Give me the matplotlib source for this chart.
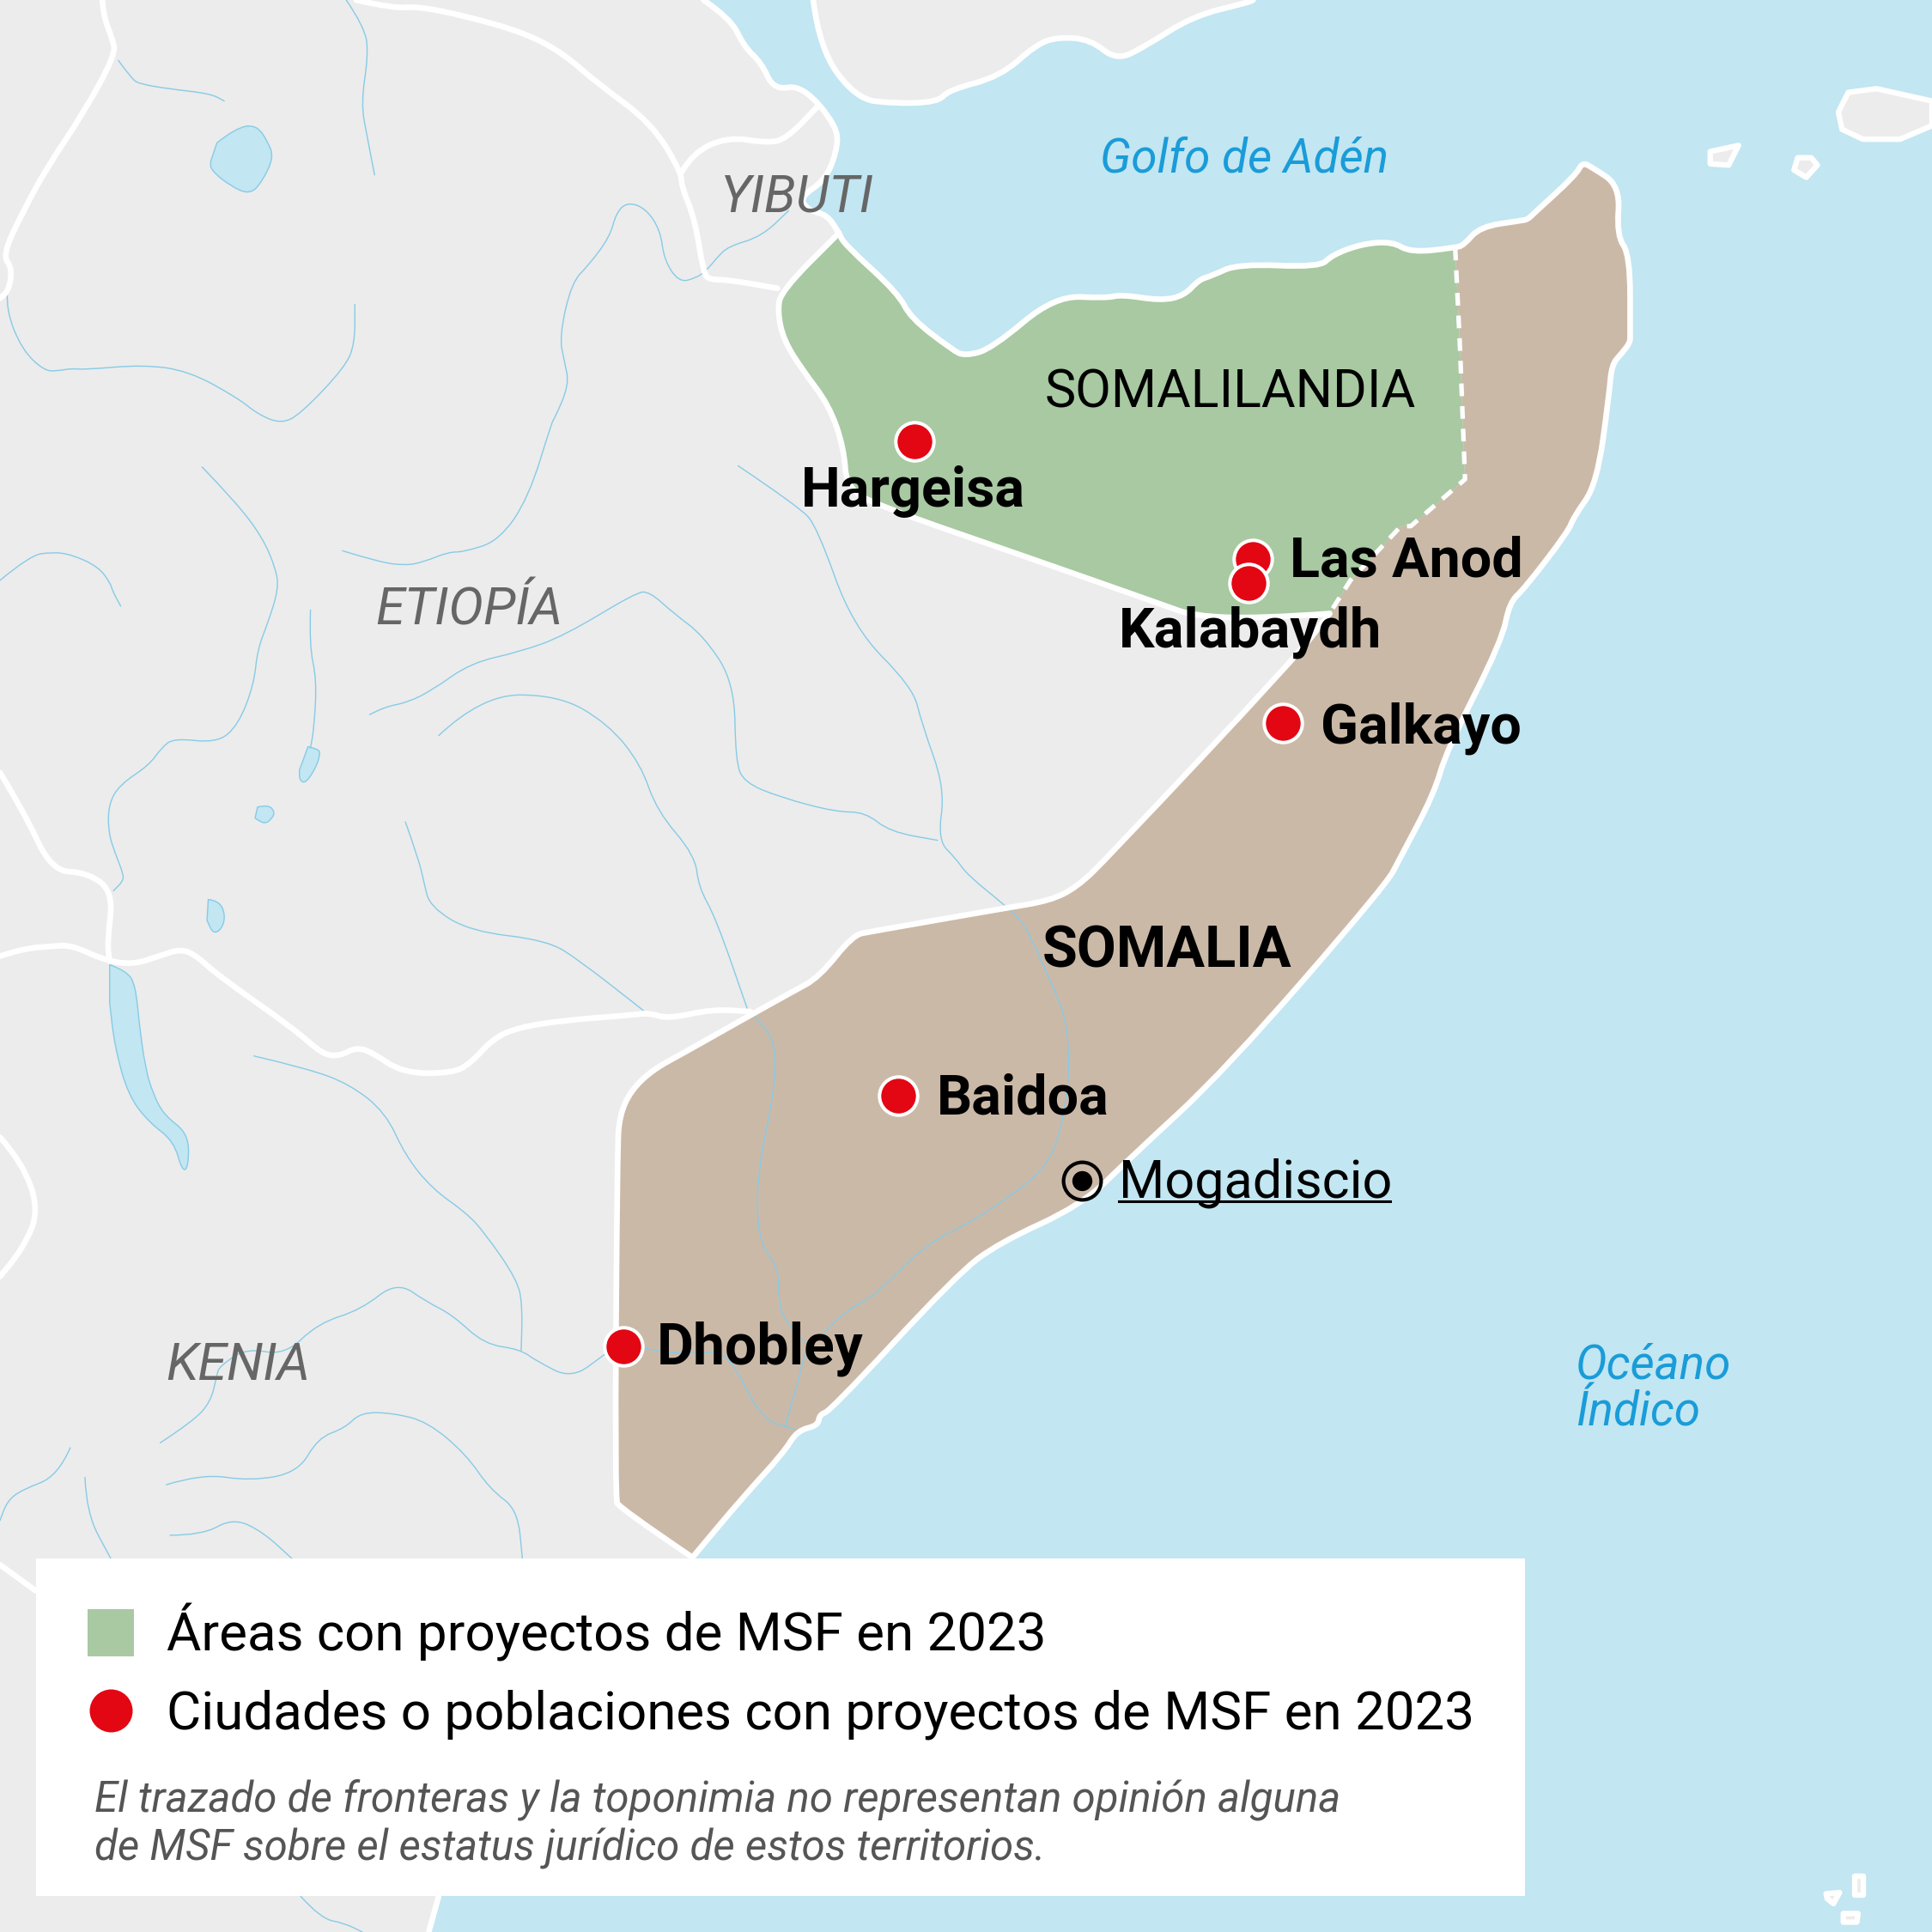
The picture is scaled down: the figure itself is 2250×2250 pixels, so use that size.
import matplotlib
matplotlib.use('Agg')
import matplotlib.pyplot as plt
from matplotlib.patches import Rectangle, PathPatch
from matplotlib.path import Path

# colores
SEA = '#c2e6f2'
LAND = '#ececec'
BEIGE = '#cbb9a8'
GREEN = '#a8c9a2'
RED = '#e30613'
RIVER = '#86cbe6'
GREY = '#666666'
BLUE = '#1a9cd8'

plt.rcParams['font.family'] = ['Roboto', 'DejaVu Sans']

# contornos (pixeles de la imagen de 1568)
djibouti_coast = [(571, 0), (593, 15), (604, 38), (618, 51), (628, 73), (651, 69), (680, 103), (679, 124),
                  (669, 147), (649, 160), (656, 171), (671, 174), (681, 189)]
somaliland_coast = [(685, 198), (729, 238), (739, 258), (773, 284), (783, 289), (805, 283), (856, 240), (898, 242),
                    (910, 239), (942, 244), (961, 240), (973, 227), (983, 224), (1005, 214), (1071, 217), (1081, 207),
                    (1105, 198), (1130, 196), (1145, 205), (1181, 201)]
somalia_coast = [(1188, 199), (1201, 184), (1235, 179), (1240, 178), (1245, 173), (1279, 142), (1284, 132), (1291, 135),
                 (1315, 151), (1312, 191), (1323, 207), (1323, 272), (1323, 278), (1316, 287), (1308, 296), (1306, 320),
                 (1296, 393), (1277, 420), (1273, 431), (1237, 478), (1225, 489), (1219, 520), (1174, 609), (1164, 644),
                 (1136, 697), (1125, 718), (994, 869), (918, 939), (878, 978), (810, 1009), (776, 1035), (674, 1145),
                 (665, 1148), (664, 1157), (647, 1161), (636, 1179), (603, 1215), (562, 1264)]
south_coast = [(356, 1539), (348, 1568)]
somalia_west = [(503, 1224), (499, 1216), (501, 930), (503, 905), (512, 885), (530, 868), (554, 855), (607, 825),
                (643, 805), (665, 793), (692, 759), (707, 756), (816, 737), (852, 731), (874, 720), (898, 697),
                (1052, 533), (1079, 498)]
somaliland_south = [(1079, 498), (1022, 502), (969, 500), (944, 491), (836, 453), (714, 411), (687, 396), (685, 364),
                    (673, 329), (651, 300), (636, 276), (631, 253), (634, 236), (681, 189)]
dashed_border = [(1181, 201), (1185, 284), (1189, 389), (1145, 427), (1137, 427), (1096, 471), (1079, 498)]

arabia = [(660, 0), (665, 40), (695, 80), (724, 84), (761, 83), (770, 73), (812, 62), (841, 36), (859, 30), (885, 32),
          (906, 49), (929, 38), (968, 13), (1013, 2), (1017, 0)]
islands = [
    [(1500, 75), (1523, 72), (1568, 82), (1568, 102), (1542, 113), (1512, 113), (1495, 105), (1492, 91)],
    [(1388, 123), (1411, 118), (1403, 134), (1388, 133)],
    [(1459, 128), (1470, 128), (1475, 134), (1466, 144), (1456, 138)],
    [(1482, 1537), (1493, 1536), (1488, 1545), (1483, 1541)],
    [(1505, 1523), (1512, 1523), (1512, 1538), (1505, 1538)],
    [(1496, 1553), (1508, 1553), (1507, 1560), (1496, 1560)],
]

land_borders = [
    [(83, 0), (84, 13), (91, 31), (94, 44), (67, 93), (38, 136), (18, 173), (2, 207), (10, 218), (7, 236), (0, 242)],
    [(289, 0), (320, 7), (338, 5), (378, 13), (427, 27), (458, 44), (484, 67), (529, 100), (553, 140), (553, 151),
     (564, 178), (571, 222), (576, 227), (591, 227), (631, 234)],
    [(553, 140), (562, 124), (591, 111), (622, 116), (638, 113), (664, 86)],
    [(0, 776), (18, 770), (42, 768), (58, 767), (84, 779), (107, 783), (129, 776), (147, 770), (160, 776), (176, 791),
     (240, 836), (262, 856), (276, 857), (289, 850), (302, 854), (327, 871), (367, 871), (382, 863), (400, 843),
     (420, 834), (458, 828), (511, 824), (527, 822), (542, 827), (578, 819), (609, 821)],
    [(0, 627), (20, 660), (42, 707), (71, 708), (92, 724), (87, 765), (89, 780)],
    [(0, 923), (18, 943), (32, 983), (18, 1014), (0, 1036)],
    [(0, 1270), (29, 1291)],
]

lakes = [
    [(176, 116), (191, 104), (208, 101), (218, 116), (222, 128), (213, 147), (203, 158), (187, 151), (171, 138), (171, 131)],
    [(250, 606), (258, 608), (260, 611), (257, 622), (248, 636), (243, 633), (243, 625)],
    [(209, 655), (218, 653), (223, 659), (221, 664), (215, 669), (207, 664)],
    [(169, 730), (178, 731), (183, 743), (180, 754), (173, 758), (168, 747)],
    [(89, 783), (103, 788), (110, 800), (113, 831), (118, 867), (124, 887), (133, 905), (153, 920), (153, 947),
     (148, 951), (141, 926), (121, 911), (104, 889), (93, 849), (89, 814)],
]

rivers = [
    [(96, 49), (107, 64), (113, 68), (136, 72), (171, 76), (182, 82)],
    [(281, 0), (296, 22), (299, 44), (293, 84), (298, 111), (304, 142)],
    [(6, 238), (5, 252), (18, 284), (36, 301), (47, 301), (58, 299), (69, 300), (116, 296), (153, 301), (193, 323),
     (209, 336), (228, 344), (244, 336), (280, 298), (288, 279), (288, 247)],
    [(164, 379), (191, 407), (213, 436), (224, 462), (226, 478), (218, 504), (209, 527), (206, 556), (193, 589),
     (176, 603), (141, 599), (131, 607), (121, 621), (97, 637), (88, 653), (88, 676), (94, 694), (100, 709),
     (100, 715), (92, 723)],
    [(0, 471), (24, 451), (42, 448), (58, 450), (80, 460), (90, 474), (91, 479), (98, 492)],
    [(278, 447), (307, 456), (329, 459), (344, 456), (364, 448), (376, 448), (405, 439), (429, 404), (448, 342),
     (450, 340), (462, 312), (458, 293), (454, 273), (464, 229), (478, 215), (495, 192), (500, 173), (509, 164),
     (524, 169), (536, 187), (539, 211), (551, 229), (564, 226), (573, 220), (582, 209), (591, 200), (618, 192),
     (640, 171)],
    [(252, 495), (251, 524), (257, 551), (255, 590), (252, 607)],
    [(300, 580), (311, 574), (331, 570), (351, 560), (382, 538), (422, 529), (458, 516), (516, 481), (527, 480),
     (547, 498), (571, 516), (596, 554), (597, 618), (604, 635), (633, 647), (678, 659), (702, 659), (722, 675),
     (761, 682)],
    [(599, 378), (648, 411), (663, 427), (692, 509), (741, 558), (748, 587), (767, 640), (761, 682), (776, 697),
     (785, 710), (816, 735), (832, 750), (850, 791), (865, 825), (868, 863), (865, 897), (856, 935), (838, 958),
     (792, 990), (752, 1009), (710, 1052), (687, 1063), (665, 1086), (654, 1094), (650, 1113), (637, 1158)],
    [(612, 825), (625, 837), (630, 859), (627, 893), (616, 946), (614, 984), (618, 1011), (632, 1029), (632, 1062),
     (643, 1079), (654, 1090)],
    [(523, 1094), (541, 1099), (581, 1096), (596, 1107), (618, 1152), (645, 1160)],
    [(206, 857), (249, 867), (284, 880), (313, 903), (329, 938), (351, 965), (378, 984), (393, 1000), (420, 1039),
     (424, 1060), (423, 1096)],
    [(130, 1171), (156, 1154), (171, 1138), (176, 1116), (178, 1109), (200, 1094), (231, 1100), (258, 1074), (293, 1063),
     (322, 1040), (347, 1057), (367, 1067), (393, 1091), (422, 1095), (436, 1105), (464, 1119), (491, 1099)],
    [(135, 1205), (164, 1196), (203, 1202), (242, 1195), (258, 1167), (280, 1159), (293, 1146), (320, 1147), (347, 1154),
     (378, 1180), (398, 1209), (420, 1225), (424, 1265)],
    [(57, 1175), (47, 1198), (18, 1209), (6, 1218), (0, 1234)],
    [(69, 1199), (70, 1228), (90, 1265)],
    [(138, 1246), (164, 1246), (189, 1232), (213, 1243), (237, 1265)],
    [(356, 597), (391, 564), (453, 564), (493, 587), (520, 620), (533, 658), (564, 694), (567, 720), (581, 745), (608, 823)],
    [(329, 667), (340, 698), (344, 716), (349, 736), (382, 756), (444, 763), (471, 780), (522, 820)],
    [(244, 1539), (260, 1557), (280, 1561), (294, 1568)],
]

# ciudades
city_names = ['Hargeisa', 'Las Anod', 'Kalabaydh', 'Galkayo', 'Baidoa', 'Dhobley']
city_x = [742, 1017, 1013, 1041, 729, 506]
city_y = [358, 454, 473, 587, 889, 1093]
label_x = [650, 1047, 908, 1072, 760, 533]
label_y = [411, 468, 525, 603, 904, 1107]
label_size = [46.5, 46.5, 47, 46.5, 46.5, 47.5]

capital_name = 'Mogadiscio'
capital_xy = (878, 958)

legend_items = ['Áreas con proyectos de MSF en 2023', 'Ciudades o poblaciones con proyectos de MSF en 2023']
note_lines = ['El trazado de fronteras y la toponimia no representan opinión alguna',
              'de MSF sobre el estatus jurídico de estos territorios.']

fig = plt.figure(figsize=(22.5, 22.5), dpi=100)
ax = fig.add_axes([0, 0, 1, 1])
ax.set_xlim(0, 1568)
ax.set_ylim(1568, 0)
ax.axis('off')
fig.patch.set_facecolor(SEA)


def tramos(*partes, cerrar=False):
    """Cada parte es (puntos, suave); suave dibuja curvas cuadraticas usando los puntos como control"""
    verts, codes = [], []
    for puntos, suave in partes:
        for i, p in enumerate(puntos):
            if i == 0:
                verts.append(p)
                codes.append(Path.LINETO if codes else Path.MOVETO)
            elif not suave or i == len(puntos) - 1:
                verts.append(p)
                codes.append(Path.LINETO)
            else:
                sig = puntos[i + 1]
                verts += [p, ((p[0] + sig[0]) / 2, (p[1] + sig[1]) / 2)]
                codes += [Path.CURVE3, Path.CURVE3]
    if cerrar:
        verts.append(verts[0])
        codes.append(Path.CLOSEPOLY)
    return Path(verts, codes)


def relleno(path, color, z=1, edge='none', lw=0):
    ax.add_patch(PathPatch(path, facecolor=color, edgecolor=edge, linewidth=lw, zorder=z, joinstyle='round'))


def linea(puntos, color='white', lw=4.8, z=5):
    ax.add_patch(PathPatch(tramos((puntos, True)), fill=False, edgecolor=color, linewidth=lw, zorder=z,
                           joinstyle='round', capstyle='round'))


# fondo
ax.add_patch(Rectangle((0, 0), 1568, 1568, facecolor=SEA, edgecolor='none', zorder=0))

costa = djibouti_coast + somaliland_coast + somalia_coast
relleno(tramos((costa, True), (south_coast + [(0, 1568), (0, 0)], False), cerrar=True), LAND, 1)
relleno(tramos((arabia, True), cerrar=True), LAND, 1)
for isla in islands:
    relleno(tramos((isla, False), cerrar=True), LAND, 1, edge='white', lw=4.6)

relleno(tramos(([(1181, 201)] + somalia_coast, True), ([(562, 1264)] + somalia_west, True),
               (dashed_border[::-1], False), cerrar=True), BEIGE, 2)
relleno(tramos(([(681, 189)] + somaliland_coast, True), (dashed_border, False), (somaliland_south, True),
               cerrar=True), GREEN, 2)

for lago in lakes:
    relleno(tramos((lago, True), cerrar=True), SEA, 3, edge=RIVER, lw=1.0)
for rio in rivers:
    linea(rio, color=RIVER, lw=1.0, z=3)

# fronteras y costa en blanco
linea(costa)
linea(south_coast)
linea(arabia)
for borde in land_borders:
    linea(borde)
linea([(562, 1264)] + somalia_west)
linea(somaliland_south)
xs, ys = zip(*dashed_border)
ax.plot(xs, ys, color='white', lw=3.8, zorder=5, linestyle=(0, (2.8, 2.2)))

# ciudades
ax.plot(city_x, city_y, 'o', ms=32, mfc=RED, mec='white', mew=2.9, zorder=6, linestyle='none')
ax.plot(*capital_xy, 'o', ms=31.5, mfc='none', mec='black', mew=3, zorder=6)
ax.plot(*capital_xy, 'o', ms=16.8, mfc='black', mec='none', zorder=6)

for nombre, x, y, fs in zip(city_names, label_x, label_y, label_size):
    ax.text(x, y, nombre, fontsize=fs, fontweight='bold', color='black', va='baseline', zorder=7)

ax.text(908, 972, capital_name, fontsize=44, color='black', va='baseline', zorder=7)
ax.plot([908, 1128], [975, 975], color='black', lw=2.2, zorder=7)

ax.text(846, 785, 'SOMALIA', fontsize=48, fontweight='bold', color='black', va='baseline', zorder=7)
ax.text(848, 331, 'SOMALILANDIA', fontsize=43.8, color='black', va='baseline', zorder=7)

for nombre, x, y in [('YIBUTI', 585, 172), ('ETIOPÍA', 305, 507), ('KENIA', 135, 1120)]:
    ax.text(x, y, nombre, fontsize=44, style='italic', color=GREY, va='baseline', zorder=7)

for nombre, x, y in [('Golfo de Adén', 893, 140), ('Océano', 1279, 1119), ('Índico', 1279, 1157)]:
    ax.text(x, y, nombre, fontsize=39.5, style='italic', color=BLUE, va='baseline', zorder=7)

# leyenda
ax.add_patch(Rectangle((29, 1265), 1209, 274, facecolor='white', edgecolor='none', zorder=8))
ax.add_patch(Rectangle((71, 1306), 38, 38, facecolor=GREEN, edgecolor='none', zorder=9))
ax.plot(90, 1388, 'o', ms=36, mfc=RED, mec='none', zorder=9)
ax.text(135, 1340, legend_items[0], fontsize=44.6, color='black', va='baseline', zorder=9)
ax.text(135, 1403, legend_items[1], fontsize=44.6, color='black', va='baseline', zorder=9)
ax.text(77, 1470, note_lines[0], fontsize=35.5, style='italic', color='#555555', va='baseline', zorder=9)
ax.text(77, 1510, note_lines[1], fontsize=35.5, style='italic', color='#555555', va='baseline', zorder=9)

fig.savefig('out.png', dpi=100, facecolor=SEA)
